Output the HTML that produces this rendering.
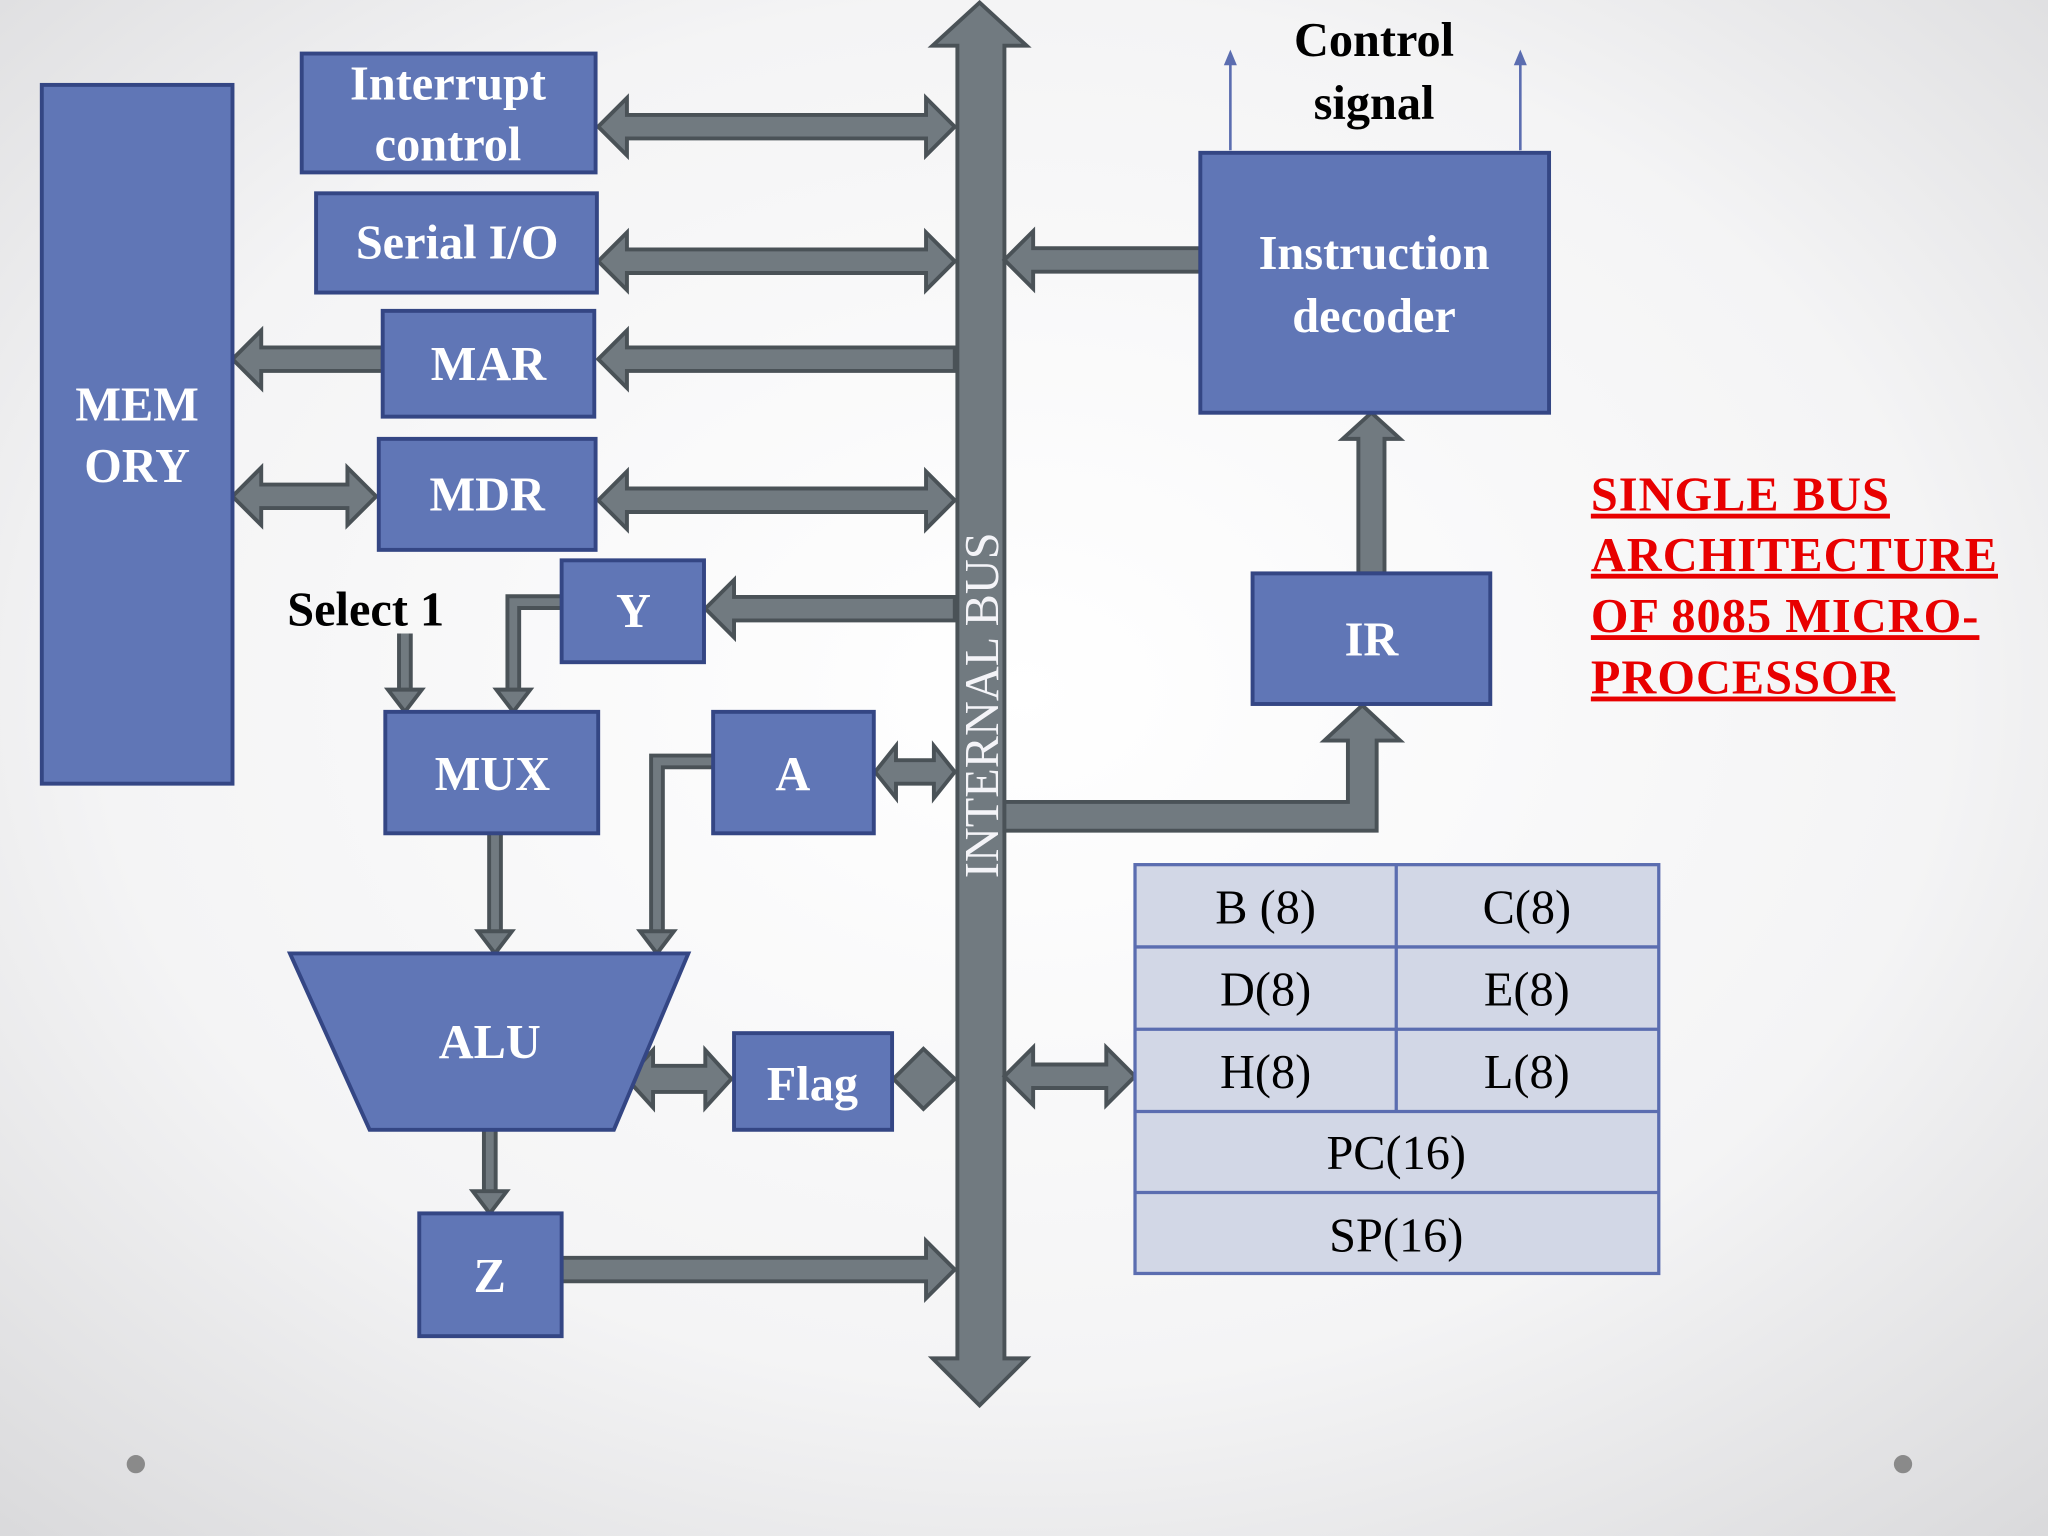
<!DOCTYPE html>
<html><head><meta charset="utf-8"><style>
html,body{margin:0;padding:0;width:2048px;height:1536px;overflow:hidden;}
svg{display:block}
.box{fill:#6076b6;stroke:#344684;stroke-width:3}
.bt{fill:#fff;font-family:"Liberation Serif",serif;font-weight:bold;font-size:37px;text-anchor:middle}
.ar{fill:#717a80;stroke:#4a5257;stroke-width:3;stroke-linejoin:miter}
.rt{fill:#000;font-family:"Liberation Serif",serif;font-size:37px;text-anchor:middle}
.red{fill:#e80000;font-family:"Liberation Serif",serif;font-weight:bold;font-size:37px;text-decoration:underline;letter-spacing:0.8px}
</style></head><body>
<svg width="2048" height="1536" viewBox="0 0 1568 1176" preserveAspectRatio="none">
<defs><radialGradient id="bg" cx="0.5" cy="0.45" r="0.75"><stop offset="0" stop-color="#ffffff"/><stop offset="0.6" stop-color="#f4f4f5"/><stop offset="1" stop-color="#d9d9db"/></radialGradient></defs>
<rect width="1568" height="1176" fill="url(#bg)"/>
<circle cx="104" cy="1121" r="7" fill="#8a8a8a"/><circle cx="1457" cy="1121" r="7" fill="#8a8a8a"/>

<polygon class="ar" points="750,2 786,35 769,35 769,1040 786,1040 750,1076 714,1040 733,1040 733,35 714,35"/>
<text transform="translate(764,540) rotate(-90)" style="fill:#f4f4f8;font-family:'Liberation Serif',serif;font-size:37px;text-anchor:middle">INTERNAL BUS</text>

<polygon class="ar" points="458,97 480,75 480,88 709,88 709,75 731,97 709,119 709,106 480,106 480,119"/>
<polygon class="ar" points="458,200 480,178 480,191 709,191 709,178 731,200 709,222 709,209 480,209 480,222"/>
<polygon class="ar" points="458,275 480,253 480,266 731,266 731,284 480,284 480,297"/>
<polygon class="ar" points="178,275 200,253 200,266 293,266 293,284 200,284 200,297"/>
<polygon class="ar" points="458,383 480,361 480,374 709,374 709,361 731,383 709,405 709,392 480,392 480,405"/>
<polygon class="ar" points="178,380 200,358 200,371 266,371 266,358 288,380 266,402 266,389 200,389 200,402"/>
<polygon class="ar" points="540,466 562,444 562,457 731,457 731,475 562,475 562,488"/>
<polygon class="ar" points="670,591 686,571 686,582 715,582 715,571 731,591 715,611 715,600 686,600 686,611"/>
<polygon class="ar" points="684,826 707,803 731,826 707,849"/>
<polygon class="ar" points="480,826 500,804 500,816 540,816 540,804 560,826 540,848 540,836 500,836 500,848"/>
<polygon class="ar" points="430,963 709,963 709,950 731,972 709,994 709,981 430,981"/>
<polygon class="ar" points="769,824 791,802 791,815 847,815 847,802 869,824 847,846 847,833 791,833 791,846"/>
<polygon class="ar" points="769,199 791,177 791,190 919,190 919,208 791,208 791,221"/>
<polygon class="ar" points="769,614 1032,614 1032,567 1014,567 1043,540 1072,567 1054,567 1054,636 769,636"/>
<polygon class="ar" points="1040,439 1040,336 1028,336 1050,316 1072,336 1060,336 1060,439"/>

<g fill="none" stroke-linejoin="miter">
<g stroke="#4a5257" stroke-width="12">
<polyline points="430,461 393,461 393,530"/><polyline points="310,485 310,530"/>
<polyline points="379,638 379,715"/><polyline points="546,583 503,583 503,715"/><polyline points="375,865 375,914"/>
</g>
<g stroke="#717a80" stroke-width="6">
<polyline points="430,461 393,461 393,530"/><polyline points="310,485 310,530"/>
<polyline points="379,638 379,715"/><polyline points="546,583 503,583 503,715"/><polyline points="375,865 375,914"/>
</g></g>
<g class="ar">
<polygon points="380,528 406,528 393,545"/><polygon points="297,528 323,528 310,545"/>
<polygon points="366,713 392,713 379,730"/><polygon points="490,713 516,713 503,730"/><polygon points="362,912 388,912 375,929"/>
</g>

<rect class="box" x="32" y="65" width="146" height="535"/>
<text class="bt" x="105" y="322">MEM</text><text class="bt" x="105" y="369">ORY</text>
<rect class="box" x="231" y="41" width="225" height="91"/>
<text class="bt" x="343" y="76">Interrupt</text><text class="bt" x="343" y="123">control</text>
<rect class="box" x="242" y="148" width="215" height="76"/><text class="bt" x="350" y="198">Serial I/O</text>
<rect class="box" x="293" y="238" width="162" height="81"/><text class="bt" x="374" y="291">MAR</text>
<rect class="box" x="290" y="336" width="166" height="85"/><text class="bt" x="373" y="391">MDR</text>
<rect class="box" x="430" y="429" width="109" height="78"/><text class="bt" x="485" y="480">Y</text>
<rect class="box" x="295" y="545" width="163" height="93"/><text class="bt" x="377" y="605">MUX</text>
<rect class="box" x="546" y="545" width="123" height="93"/><text class="bt" x="607" y="605">A</text>
<polygon class="box" points="222,730 527,730 470,865 283,865"/><text class="bt" x="375" y="810">ALU</text>
<rect class="box" x="562" y="791" width="121" height="74"/><text class="bt" x="622" y="842">Flag</text>
<rect class="box" x="321" y="929" width="109" height="94"/><text class="bt" x="375" y="989">Z</text>
<rect class="box" x="919" y="117" width="267" height="199"/>
<text class="bt" x="1052" y="206">Instruction</text><text class="bt" x="1052" y="254">decoder</text>
<rect class="box" x="959" y="439" width="182" height="100"/><text class="bt" x="1050" y="502">IR</text>

<line x1="942" y1="115" x2="942" y2="45" stroke="#5b6db0" stroke-width="2"/>
<line x1="1164" y1="115" x2="1164" y2="45" stroke="#5b6db0" stroke-width="2"/>
<polygon points="937,50 947,50 942,38" fill="#5b6db0"/><polygon points="1159,50 1169,50 1164,38" fill="#5b6db0"/>
<text class="bt" x="1052" y="43" style="fill:#000">Control</text><text class="bt" x="1052" y="91" style="fill:#000">signal</text>
<text class="bt" x="280" y="479" style="fill:#000">Select 1</text>

<g fill="#d2d7e6" stroke="#5b6db0" stroke-width="2.5">
<rect x="869" y="662" width="401" height="313"/>
<line x1="869" y1="725" x2="1270" y2="725"/><line x1="869" y1="788" x2="1270" y2="788"/>
<line x1="869" y1="851" x2="1270" y2="851"/><line x1="869" y1="913" x2="1270" y2="913"/>
<line x1="1069" y1="662" x2="1069" y2="851"/>
</g>
<text class="rt" x="969" y="707">B (8)</text><text class="rt" x="1169" y="707">C(8)</text>
<text class="rt" x="969" y="770">D(8)</text><text class="rt" x="1169" y="770">E(8)</text>
<text class="rt" x="969" y="833">H(8)</text><text class="rt" x="1169" y="833">L(8)</text>
<text class="rt" x="1069" y="895">PC(16)</text><text class="rt" x="1069" y="958">SP(16)</text>

<text class="red" x="1218" y="391">SINGLE BUS</text>
<text class="red" x="1218" y="437">ARCHITECTURE</text>
<text class="red" x="1218" y="484">OF 8085 MICRO-</text>
<text class="red" x="1218" y="531">PROCESSOR</text>
</svg>
</body></html>
